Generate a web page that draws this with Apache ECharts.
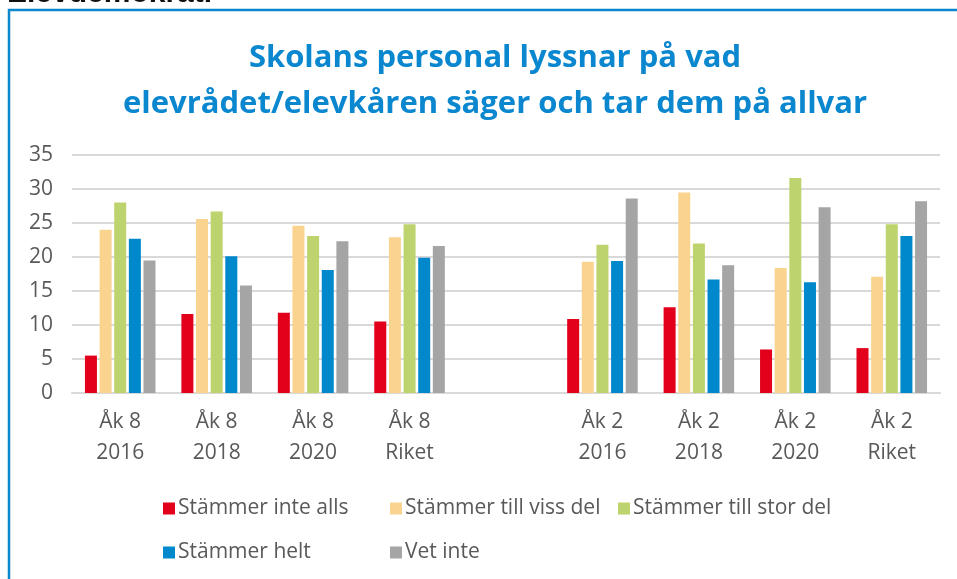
<!DOCTYPE html>
<html>
<head>
<meta charset="utf-8">
<script src="https://cdn.jsdelivr.net/npm/echarts@6/dist/echarts.min.js"></script>
<style>
    html, body { margin: 0; padding: 0; background: #fff; }
    #main { width: 957px; height: 579px; }
</style>
</head>
<body>
<div id="main"></div>
<script type="text/javascript">
// kategorier (tom kategori = mellanrum mellan åk 8 och åk 2)
var categories = ['Åk 8\n2016', 'Åk 8\n2018', 'Åk 8\n2020', 'Åk 8\nRiket', '', 'Åk 2\n2016', 'Åk 2\n2018', 'Åk 2\n2020', 'Åk 2\nRiket'];
var names = ['Stämmer inte alls', 'Stämmer till viss del', 'Stämmer till stor del', 'Stämmer helt', 'Vet inte'];
var colors = ['#E2001A', '#FAD38F', '#BDD36D', '#0088CC', '#A5A5A5'];

var inteAlls  = [5.5, 11.6, 11.8, 10.5, '-', 10.9, 12.6, 6.4, 6.6];
var vissDel   = [24.0, 25.6, 24.6, 22.9, '-', 19.3, 29.5, 18.4, 17.1];
var storDel   = [28.0, 26.7, 23.1, 24.8, '-', 21.8, 22.0, 31.6, 24.8];
var helt      = [22.7, 20.1, 18.1, 19.9, '-', 19.4, 16.7, 16.3, 23.1];
var vetInte   = [19.5, 15.8, 22.3, 21.6, '-', 28.6, 18.8, 27.3, 28.2];

var yTicks = [0, 5, 10, 15, 20, 25, 30, 35];

var myChart = echarts.init(document.getElementById('main'));

var allData = [inteAlls, vissDel, storDel, helt, vetInte];
var series = [];
for (var i = 0; i < names.length; i++) {
    series.push({
        name: names[i],
        type: 'bar',
        barWidth: 12,
        barGap: '22%',
        itemStyle: { color: colors[i] },
        data: allData[i]
    });
}

// legend som i Excel: fasta kolumner
var legendPos = [[158, 493], [385, 493], [613, 493], [158, 537], [385, 537]];
var legends = [];
for (var j = 0; j < names.length; j++) {
    legends.push({
        data: [names[j]],
        left: legendPos[j][0],
        top: legendPos[j][1],
        icon: 'rect',
        itemWidth: 12,
        itemHeight: 12,
        itemGap: 0,
        selectedMode: false,
        textStyle: { color: '#595959', fontSize: 21, fontFamily: 'Open Sans', padding: [0, 0, 0, -2] }
    });
}

var option = {
    animation: false,
    title: {
        text: 'Skolans personal lyssnar på vad\nelevrådet/elevkåren säger och tar dem på allvar',
        left: 490,
        textAlign: 'center',
        top: 30,
        textStyle: {
            color: '#0A87CF',
            fontSize: 31,
            fontWeight: 'bold',
            fontFamily: 'Open Sans',
            lineHeight: 46
        }
    },
    graphic: [
        {
            type: 'rect',
            shape: { x: 9, y: 10, width: 980, height: 600 },
            style: { fill: 'none', stroke: '#0B87CF', lineWidth: 2.5 },
            silent: true
        },
        {
            type: 'text',
            left: 7,
            top: -21,
            style: { text: 'Elevdemokrati', fill: '#111', fontSize: 30, fontWeight: 'bold', fontFamily: 'Liberation Sans' },
            silent: true
        }
    ],
    legend: legends,
    grid: {
        left: 72,
        right: 17,
        top: 155,
        bottom: 186
    },
    xAxis: {
        type: 'category',
        data: categories,
        axisTick: { show: false },
        axisLine: { lineStyle: { color: '#D9D9D9', width: 2 } },
        axisLabel: {
            color: '#595959',
            fontSize: 21,
            fontFamily: 'Open Sans',
            lineHeight: 31,
            margin: 14,
            interval: 0
        }
    },
    yAxis: {
        type: 'value',
        min: yTicks[0],
        max: yTicks[yTicks.length - 1],
        interval: 5,
        axisLine: { show: false },
        axisTick: { show: false },
        splitLine: { lineStyle: { color: '#D9D9D9', width: 2 } },
        axisLabel: {
            color: '#595959',
            fontSize: 21,
            fontFamily: 'Open Sans',
            margin: 19
        }
    },
    series: series
};
myChart.setOption(option);
</script>
</body>
</html>
